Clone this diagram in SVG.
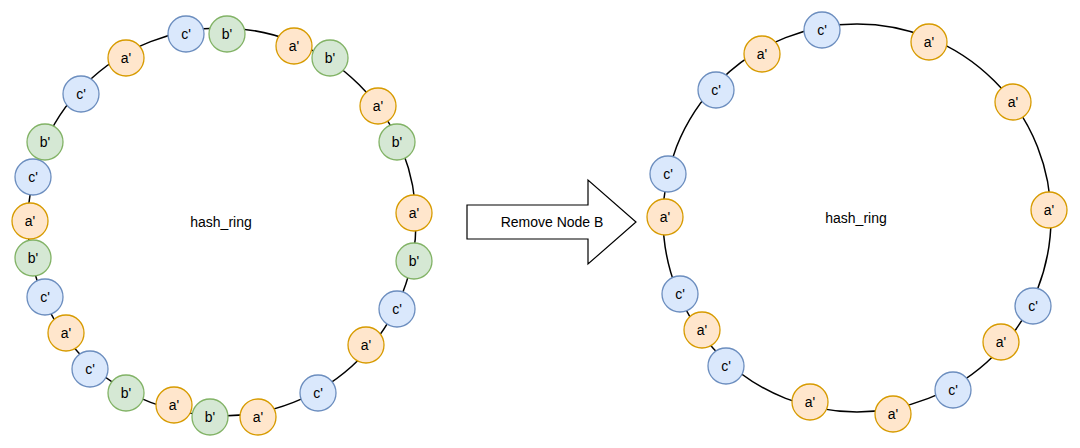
<svg xmlns="http://www.w3.org/2000/svg" width="1080" height="448" viewBox="0 0 1080 448">
<style>
text{font-family:"Liberation Sans",Arial,Helvetica,sans-serif;font-size:14px;fill:#000;text-anchor:middle;dominant-baseline:central}
.ring{fill:none;stroke:#000;stroke-width:1.5}
.a{fill:#ffe6cc;stroke:#d79b00;stroke-width:1.3}
.b{fill:#d5e8d4;stroke:#82b366;stroke-width:1.3}
.c{fill:#dae8fc;stroke:#6c8ebf;stroke-width:1.3}
</style>
<rect width="1080" height="448" fill="#fff"/>
<g id="connectors">
<circle class="ring" cx="222" cy="222" r="194"/>
<circle class="ring" cx="857" cy="218" r="194"/>
</g>
<g id="left-ring-label"><text x="221" y="222">hash_ring</text></g>
<g id="right-ring-label"><text x="856" y="218">hash_ring</text></g>
<g id="arrow">
<path d="M467,205 H588 V180 L636,222 L588,264 V239 H467 Z" fill="#fff" stroke="#000" stroke-width="1.2"/>
<text x="552" y="222">Remove Node B</text>
</g>
<g id="left-nodes">
<g id="L1"><circle class="c" cx="186" cy="34" r="18"/><text x="186" y="34">c'</text></g>
<g id="L2"><circle class="b" cx="227" cy="34" r="18"/><text x="227" y="34">b'</text></g>
<g id="L3"><circle class="a" cx="294" cy="46" r="18"/><text x="294" y="46">a'</text></g>
<g id="L4"><circle class="b" cx="330" cy="58" r="18"/><text x="330" y="58">b'</text></g>
<g id="L5"><circle class="a" cx="378" cy="106" r="18"/><text x="378" y="106">a'</text></g>
<g id="L6"><circle class="b" cx="397" cy="142" r="18"/><text x="397" y="142">b'</text></g>
<g id="L7"><circle class="a" cx="414" cy="213" r="18"/><text x="414" y="213">a'</text></g>
<g id="L8"><circle class="b" cx="414" cy="261" r="18"/><text x="414" y="261">b'</text></g>
<g id="L9"><circle class="c" cx="397" cy="309" r="18"/><text x="397" y="309">c'</text></g>
<g id="L10"><circle class="a" cx="366" cy="345" r="18"/><text x="366" y="345">a'</text></g>
<g id="L11"><circle class="c" cx="318" cy="393" r="18"/><text x="318" y="393">c'</text></g>
<g id="L12"><circle class="a" cx="258" cy="417" r="18"/><text x="258" y="417">a'</text></g>
<g id="L13"><circle class="b" cx="210" cy="417" r="18"/><text x="210" y="417">b'</text></g>
<g id="L14"><circle class="a" cx="174" cy="405" r="18"/><text x="174" y="405">a'</text></g>
<g id="L15"><circle class="b" cx="126" cy="393" r="18"/><text x="126" y="393">b'</text></g>
<g id="L16"><circle class="c" cx="90" cy="369" r="18"/><text x="90" y="369">c'</text></g>
<g id="L17"><circle class="a" cx="66" cy="333" r="18"/><text x="66" y="333">a'</text></g>
<g id="L18"><circle class="c" cx="45" cy="297" r="18"/><text x="45" y="297">c'</text></g>
<g id="L19"><circle class="b" cx="33" cy="258" r="18"/><text x="33" y="258">b'</text></g>
<g id="L20"><circle class="a" cx="30" cy="221" r="18"/><text x="30" y="221">a'</text></g>
<g id="L21"><circle class="c" cx="33" cy="177" r="18"/><text x="33" y="177">c'</text></g>
<g id="L22"><circle class="b" cx="45" cy="142" r="18"/><text x="45" y="142">b'</text></g>
<g id="L23"><circle class="c" cx="81" cy="94" r="18"/><text x="81" y="94">c'</text></g>
<g id="L24"><circle class="a" cx="126" cy="58" r="18"/><text x="126" y="58">a'</text></g>
</g>
<g id="right-nodes">
<g id="R1"><circle class="c" cx="822" cy="30" r="18"/><text x="822" y="30">c'</text></g>
<g id="R2"><circle class="a" cx="929" cy="42" r="18"/><text x="929" y="42">a'</text></g>
<g id="R3"><circle class="a" cx="1013" cy="102" r="18"/><text x="1013" y="102">a'</text></g>
<g id="R4"><circle class="a" cx="1049" cy="210" r="18"/><text x="1049" y="210">a'</text></g>
<g id="R5"><circle class="c" cx="1033" cy="306" r="18"/><text x="1033" y="306">c'</text></g>
<g id="R6"><circle class="a" cx="1001" cy="342" r="18"/><text x="1001" y="342">a'</text></g>
<g id="R7"><circle class="c" cx="953" cy="390" r="18"/><text x="953" y="390">c'</text></g>
<g id="R8"><circle class="a" cx="893" cy="414" r="18"/><text x="893" y="414">a'</text></g>
<g id="R9"><circle class="a" cx="810" cy="402" r="18"/><text x="810" y="402">a'</text></g>
<g id="R10"><circle class="c" cx="726" cy="366" r="18"/><text x="726" y="366">c'</text></g>
<g id="R11"><circle class="a" cx="702" cy="330" r="18"/><text x="702" y="330">a'</text></g>
<g id="R12"><circle class="c" cx="680" cy="294" r="18"/><text x="680" y="294">c'</text></g>
<g id="R13"><circle class="a" cx="665" cy="217" r="18"/><text x="665" y="217">a'</text></g>
<g id="R14"><circle class="c" cx="668" cy="174" r="18"/><text x="668" y="174">c'</text></g>
<g id="R15"><circle class="c" cx="716" cy="90" r="18"/><text x="716" y="90">c'</text></g>
<g id="R16"><circle class="a" cx="762" cy="54" r="18"/><text x="762" y="54">a'</text></g>
</g>
</svg>
